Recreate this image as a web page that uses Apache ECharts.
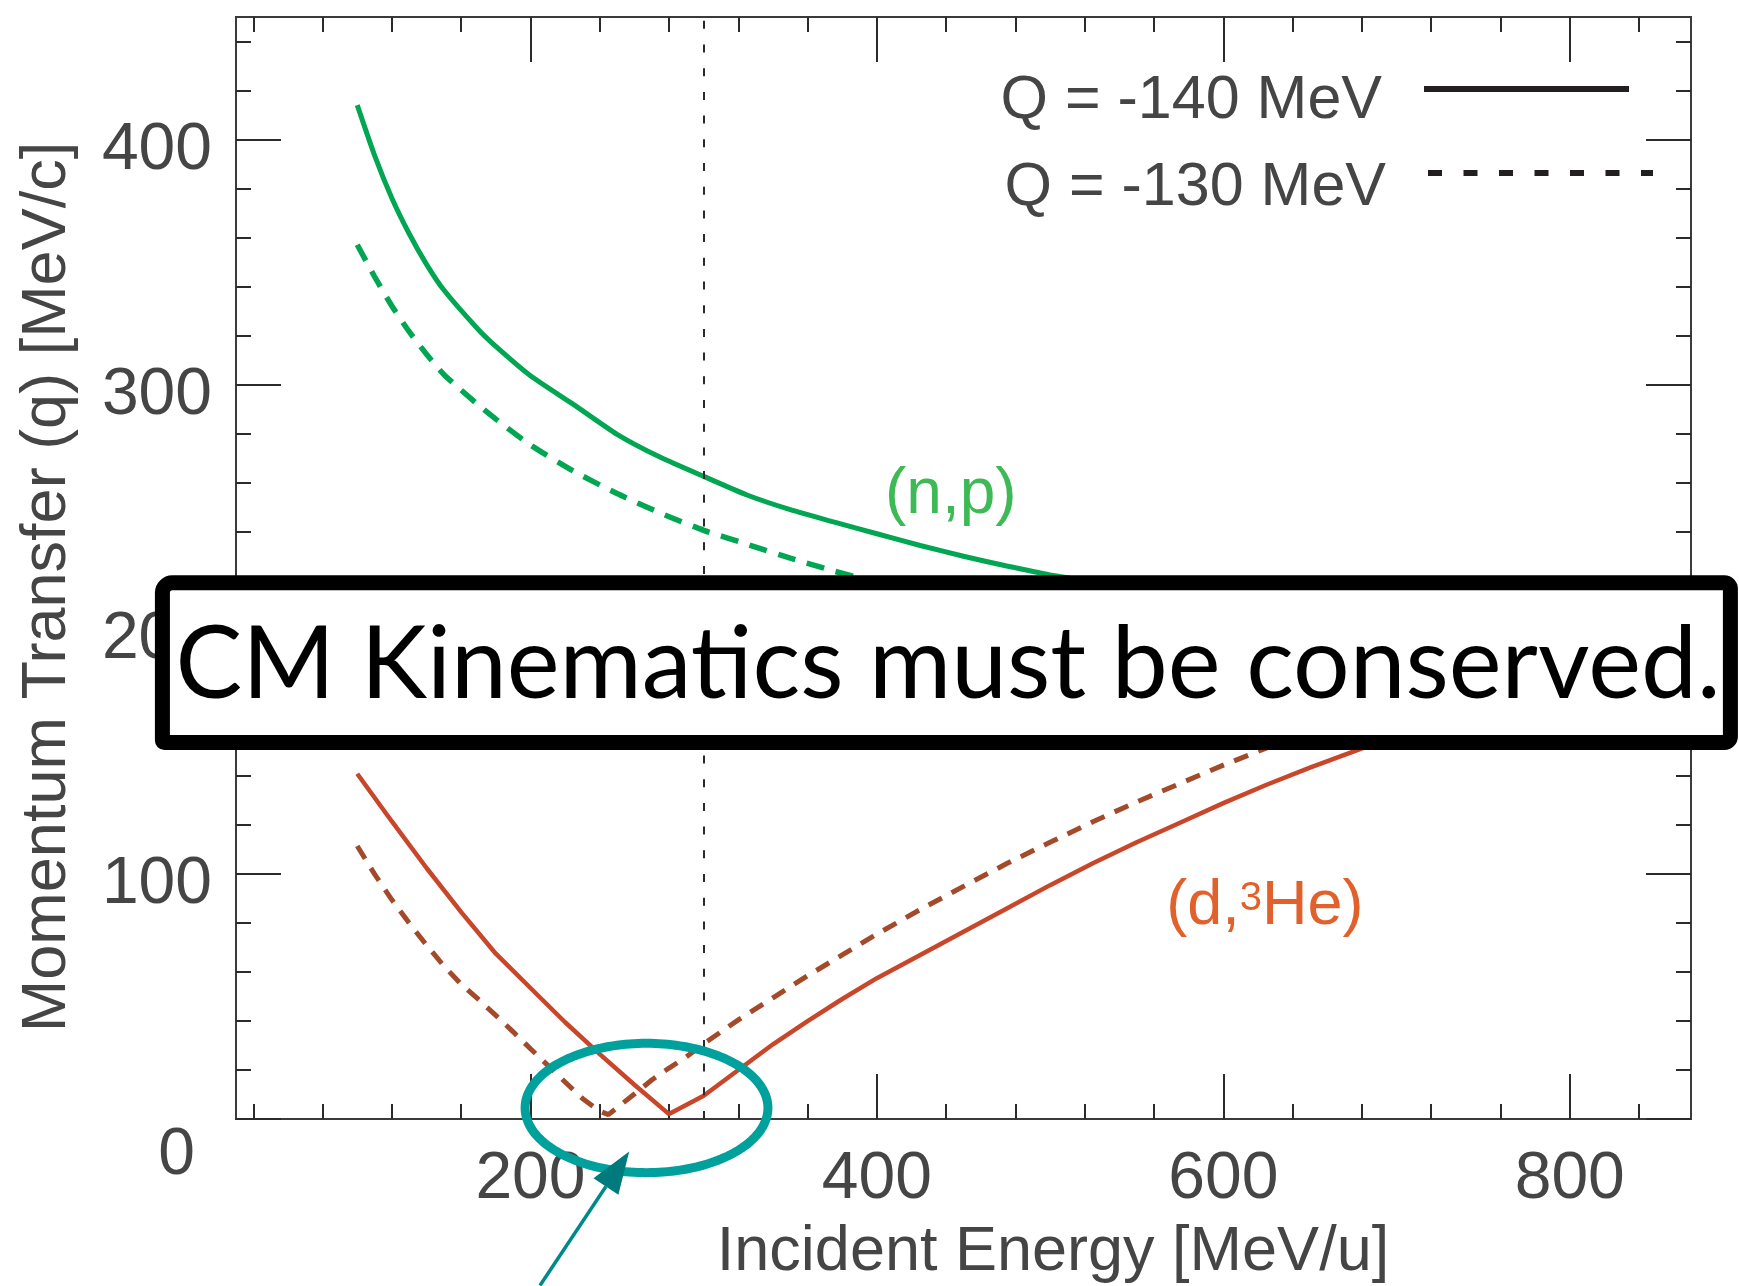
<!DOCTYPE html>
<html>
<head>
<meta charset="utf-8">
<script src="https://cdn.jsdelivr.net/npm/echarts@6/dist/echarts.min.js"></script>
<style>
  html, body { margin: 0; padding: 0; background: #ffffff; }
  #chart { width: 1739px; height: 1286px; }
</style>
</head>
<body>
<div id="chart"></div>
<script>
// ---- Kinematics at 0 degrees: momentum transfer q [MeV/c] vs incident energy [MeV/u] ----

// (n,p) channel
const npEnergy = [100, 110, 120, 130, 140, 150, 170, 180, 200, 225, 250, 275, 300, 325, 350, 375, 400, 425, 450, 475, 500, 550, 600, 650, 700, 750, 800, 840];
const npQ140   = [414, 393.5, 376, 361.5, 349, 338.5, 322.3, 315.5, 303.5, 291.7, 279.6, 270.2, 262.4, 254.8, 248.8, 243.8, 239, 234.2, 229.8, 225.8, 222.2, 216.5, 211.8, 207.8, 204.3, 201.3, 198.7, 196.8];
const npQ130   = [357, 344, 332, 321.5, 312.3, 304, 291.5, 285.8, 275.2, 264.5, 255.4, 247.4, 240.4, 234.7, 229, 223.8, 219, 214.7, 210.7, 207, 203.6, 198, 193.5, 189.5, 186.2, 183.3, 180.8, 179];

// (d,3He) channel, Q = -140 MeV
const dheEnergy140 = [100, 120, 140, 160, 180, 200, 220, 240, 260, 280, 300, 320, 340, 360, 380, 400, 425, 450, 475, 500, 525, 550, 575, 600, 625, 650, 675, 700, 750, 800, 840];
const dheQ140      = [141, 121.5, 102.5, 84.5, 67.5, 53.5, 39.5, 26.5, 14, 2, 9.5, 20, 30.5, 40, 49, 57.5, 67, 76.5, 86, 95.5, 104.5, 113, 121, 129, 136.5, 143.5, 150, 156.5, 169, 181, 190];

// (d,3He) channel, Q = -130 MeV
const dheEnergy130 = [100, 110, 120, 130, 140, 150, 160, 170, 180, 190, 200, 210, 220, 230, 240, 245, 250, 260, 270, 280, 290, 300, 320, 340, 360, 380, 400, 425, 450, 475, 500, 525, 550, 575, 600, 625, 650, 700, 750, 800, 840];
const dheQ130      = [111.5, 100, 89.5, 80, 71, 62.5, 55, 48.8, 42.3, 35.6, 28.7, 21.9, 15.1, 8.4, 3.2, 1.8, 4.6, 10.2, 15.9, 20.8, 25.4, 30.7, 40.5, 49.5, 58.5, 67, 75.5, 85.5, 95, 104.3, 113, 121.5, 129.5, 137, 144.5, 151.5, 158.5, 171.5, 183.5, 195, 204];

// Reference energy marker
const markerEnergy = 300;

// Axis ranges and tick labels
const xRange = [30, 870];
const yRange = [0, 450];
const xTickLabels = [200, 400, 600, 800];
const yTickLabels = [0, 100, 200, 300, 400];

// Legend entries
const legendNames = ['Q = -140 MeV', 'Q = -130 MeV'];

// ---- helpers ----
function zip(xs, ys) { return xs.map((x, i) => [x, ys[i]]); }
function minorTicks(step, lo, hi, major) {
  const out = [];
  for (let v = lo; v <= hi; v += step) if (major.indexOf(v) < 0) out.push(v);
  return out;
}
const xMinor = minorTicks(40, 40, 840, xTickLabels);
const yMinor = minorTicks(20, 20, 440, yTickLabels);

const FONT = "'Liberation Sans', Arial, Helvetica, sans-serif";
const AXIS_COLOR = '#3b3b3b';
const TEXT_COLOR = '#454545';

function xAxisDef(position, ticks, len, withLabels) {
  const ax = {
    type: 'value', gridIndex: 0, position: position,
    min: xRange[0], max: xRange[1],
    axisLine: { show: true, onZero: false, lineStyle: { color: AXIS_COLOR, width: 2 } },
    axisTick: { show: true, inside: true, length: len, customValues: ticks, lineStyle: { color: '#2b2b2b', width: 2 } },
    axisLabel: { show: false },
    splitLine: { show: false },
    axisPointer: { show: false }
  };
  if (withLabels) {
    ax.axisLabel = {
      show: true, customValues: xTickLabels, margin: 28,
      color: TEXT_COLOR, fontFamily: FONT, fontSize: 66
    };
    ax.name = 'Incident Energy [MeV/u]';
    ax.nameLocation = 'middle';
    ax.nameGap = 102;
    ax.nameTextStyle = { color: TEXT_COLOR, fontFamily: FONT, fontSize: 63, padding: [0, 0, 0, 179] };
  }
  return ax;
}

function yAxisDef(position, ticks, len, withLabels) {
  const ax = {
    type: 'value', gridIndex: 0, position: position,
    min: yRange[0], max: yRange[1],
    axisLine: { show: true, onZero: false, lineStyle: { color: AXIS_COLOR, width: 2 } },
    axisTick: { show: true, inside: true, length: len, customValues: ticks, lineStyle: { color: '#2b2b2b', width: 2 } },
    axisLabel: { show: false },
    splitLine: { show: false },
    axisPointer: { show: false }
  };
  if (withLabels) {
    ax.axisLabel = {
      show: true, customValues: yTickLabels, margin: 24,
      color: TEXT_COLOR, fontFamily: FONT, fontSize: 66,
      formatter: v => (v === 0 ? '{z|0}' : '{n|' + v + '}'),
      rich: {
        n: { fontFamily: FONT, fontSize: 66, color: TEXT_COLOR, padding: [22, 0, 0, 0] },
        z: { fontFamily: FONT, fontSize: 66, color: TEXT_COLOR, padding: [74, 17, 0, 0] }
      }
    };
    ax.name = 'Momentum Transfer (q) [MeV/c]';
    ax.nameLocation = 'middle';
    ax.nameGap = 157;
    ax.nameTextStyle = { color: TEXT_COLOR, fontFamily: FONT, fontSize: 63, padding: [0, 38, 0, 0] };
  }
  return ax;
}

const GREEN = '#00a651';
const RED = '#c8472a';
const RED_DASH = '#a34a2b';

const chart = echarts.init(document.getElementById('chart'), null, { renderer: 'canvas' });

// legend text sits a little below its key line
function legendDef(name, right, top, width, dash, padTop) {
  return {
    data: [name], align: 'right', orient: 'vertical',
    right: right, top: top, padding: 0,
    itemWidth: width, itemHeight: 14,
    formatter: n => '{t|' + n + '}',
    textStyle: {
      color: TEXT_COLOR, fontFamily: FONT, fontSize: 61, lineHeight: 64,
      rich: { t: { color: TEXT_COLOR, fontFamily: FONT, fontSize: 61, lineHeight: 64, padding: [padTop, 37, 0, 0] } }
    },
    itemStyle: { opacity: 0, borderWidth: 0 },
    lineStyle: { width: 6, type: dash, color: '#231f20' },
    selectedMode: false
  };
}

chart.setOption({
  animation: false,
  backgroundColor: '#ffffff',
  grid: { left: 236, right: 48, top: 17, bottom: 167, containLabel: false, outerBoundsMode: 'none' },
  xAxis: [
    xAxisDef('bottom', xTickLabels, 45, true),
    xAxisDef('bottom', xMinor, 15, false),
    xAxisDef('top', xTickLabels, 45, false),
    xAxisDef('top', xMinor, 15, false)
  ],
  yAxis: [
    yAxisDef('left', yTickLabels, 45, true),
    yAxisDef('left', yMinor, 15, false),
    yAxisDef('right', yTickLabels, 45, false),
    yAxisDef('right', yMinor, 15, false)
  ],
  legend: [
    legendDef(legendNames[0], 107, 46, 205, 'solid', 25),
    legendDef(legendNames[1], 83, 127, 225, [14, 21.5], 31)
  ],
  series: [
    {
      name: '(n,p) Q=-140', type: 'line', xAxisIndex: 0, yAxisIndex: 0,
      data: zip(npEnergy, npQ140), symbol: 'none', smooth: 0.2,
      lineStyle: { color: GREEN, width: 5 }, z: 3,
      markLine: {
        silent: true, symbol: 'none', label: { show: false },
        lineStyle: { color: '#2a2a2a', width: 2, type: [8, 15.7] },
        data: [{ xAxis: markerEnergy }]
      }
    },
    {
      name: '(n,p) Q=-130', type: 'line', xAxisIndex: 0, yAxisIndex: 0,
      data: zip(npEnergy, npQ130), symbol: 'none', smooth: 0.2,
      lineStyle: { color: GREEN, width: 5.5, type: [18, 12] }, z: 3
    },
    {
      name: '(d,3He) Q=-140', type: 'line', xAxisIndex: 0, yAxisIndex: 0,
      data: zip(dheEnergy140, dheQ140), symbol: 'none',
      lineStyle: { color: RED, width: 4.5 }, z: 3
    },
    {
      name: '(d,3He) Q=-130', type: 'line', xAxisIndex: 0, yAxisIndex: 0,
      data: zip(dheEnergy130, dheQ130), symbol: 'none',
      lineStyle: { color: RED_DASH, width: 5, type: [15, 11] }, z: 3
    },
    // legend keys for the two Q values
    {
      name: legendNames[0], type: 'line', xAxisIndex: 0, yAxisIndex: 0, data: [],
      symbol: 'none', color: '#231f20', lineStyle: { color: '#231f20', width: 6 }
    },
    {
      name: legendNames[1], type: 'line', xAxisIndex: 0, yAxisIndex: 0, data: [],
      symbol: 'none', color: '#231f20', lineStyle: { color: '#231f20', width: 6, type: [14, 21.5] }
    }
  ]
});

// ---- annotations placed in data coordinates ----
const toPx = (pt) => chart.convertToPixel({ xAxisIndex: 0, yAxisIndex: 0 }, pt);

// channel labels
const npLabelAt = [442.7, 254.8];
const dheLabelAt = [624, 86.6];
// ellipse around the minima
const ringCenter = [267, 4.5];
const ringHalfSpan = [70.1, 26.4];
// pointer arrow (tail below the axis, tip at the ring)
const arrowTail = [205.5, -68];
const arrowTip = [257, -13.3];

const npPx = toPx(npLabelAt);
const dhePx = toPx(dheLabelAt);
const c = toPx(ringCenter);
const cx2 = toPx([ringCenter[0] + ringHalfSpan[0], ringCenter[1] + ringHalfSpan[1]]);
const rx = Math.abs(cx2[0] - c[0]);
const ry = Math.abs(cx2[1] - c[1]);
const ringPts = [];
for (let i = 0; i < 180; i++) {
  const t = (i / 180) * Math.PI * 2;
  ringPts.push([c[0] + rx * Math.cos(t), c[1] + ry * Math.sin(t)]);
}
const tail = toPx(arrowTail);
const tip = toPx(arrowTip);
const dx = tip[0] - tail[0], dy = tip[1] - tail[1];
const dl = Math.hypot(dx, dy);
const ux = dx / dl, uy = dy / dl;
const headLen = 42, headHalf = 15;
const base = [tip[0] - ux * headLen, tip[1] - uy * headLen];
const headPts = [tip, [base[0] - uy * headHalf, base[1] + ux * headHalf], [base[0] + uy * headHalf, base[1] - ux * headHalf]];

chart.setOption({
  graphic: [
    {
      type: 'text', z: 20,
      style: {
        text: '(n,p)', x: npPx[0], y: npPx[1],
        fontFamily: FONT, fontSize: 64, fill: '#3dba55',
        align: 'center', verticalAlign: 'middle', textAlign: 'center', textVerticalAlign: 'middle'
      }
    },
    {
      type: 'text', z: 20,
      style: {
        text: '(d,{s|3}He)', x: dhePx[0], y: dhePx[1],
        fontFamily: FONT, fontSize: 63, fill: '#e0612b',
        align: 'center', verticalAlign: 'middle', textAlign: 'center', textVerticalAlign: 'middle',
        rich: { s: { fontFamily: FONT, fontSize: 40, fill: '#e0612b', padding: [0, 0, 16, 0] } }
      }
    },
    {
      type: 'polygon', z: 40, silent: true,
      shape: { points: ringPts },
      style: { fill: 'none', stroke: '#00a19c', lineWidth: 9 }
    },
    {
      type: 'line', z: 40, silent: true,
      shape: { x1: tail[0], y1: tail[1], x2: base[0], y2: base[1] },
      style: { stroke: '#00888a', lineWidth: 3.5 }
    },
    {
      type: 'polygon', z: 41, silent: true,
      shape: { points: headPts },
      style: { fill: '#007a7d' }
    },
    {
      type: 'rect', z: 100, silent: true,
      shape: { x: 162.4, y: 582.8, width: 1568, height: 159.7, r: [10, 6, 6, 2] },
      style: { fill: '#ffffff', stroke: '#000000', lineWidth: 15 }
    },
    {
      type: 'text', z: 101, silent: true,
      style: {
        text: 'CM Kinematics must be conserved.', x: 948, y: 666,
        fontFamily: "Lato, 'Open Sans', sans-serif", fontSize: 100, fill: '#000000',
        align: 'center', verticalAlign: 'middle', textAlign: 'center', textVerticalAlign: 'middle'
      }
    }
  ]
});
</script>
</body>
</html>
